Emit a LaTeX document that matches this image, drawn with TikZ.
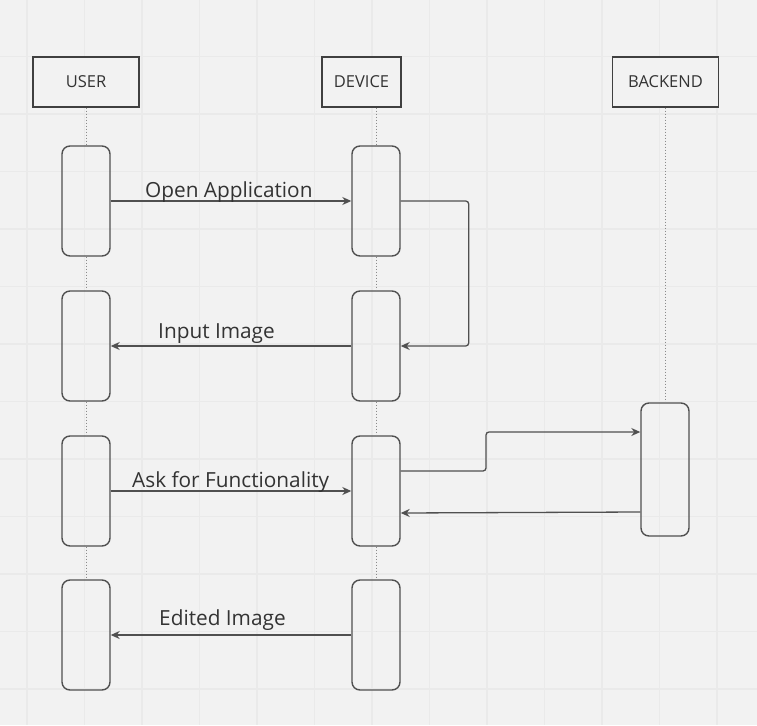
\documentclass[tikz,border=0pt]{standalone}
\usepackage{fontspec}
\setmainfont{Open Sans}
\usetikzlibrary{arrows.meta}
\definecolor{bgc}{HTML}{F2F2F2}
\definecolor{gridc}{HTML}{EAEAEA}
\definecolor{linec}{HTML}{505050}
\definecolor{headc}{HTML}{404040}
\definecolor{txtc}{HTML}{333333}
\definecolor{lifec}{HTML}{8A8A8A}
\tikzset{
  headbox/.style={draw=headc, line width=1.3pt, fill=bgc, inner sep=0pt,
    minimum width=106pt, minimum height=50pt, text=txtc, font=\fontsize{16.5}{19}\selectfont},
  actbox/.style={draw=linec, line width=1.4pt, rounded corners=8pt, inner sep=0pt,
    minimum width=48pt, minimum height=110pt},
  msg/.style={draw=linec, line width=1.3pt, -{Stealth[length=9pt,width=8pt]}},
  lifeline/.style={draw=lifec, line width=1pt, dotted},
  lbl/.style={anchor=base west, inner sep=0pt, text=txtc, font=\fontsize{20.8}{24}\selectfont},
}
\begin{document}
\begin{tikzpicture}[x=1pt,y=-1pt]
\useasboundingbox (0,0) rectangle (757,725);
\fill[bgc] (0,0) rectangle (757,725);
\foreach \k in {0,...,12} {
  \draw[gridc, line width=1.3pt] ({27+57.5*\k},0) -- ({27+57.5*\k},725);
}
\foreach \k in {1,...,12} {
  \draw[gridc, line width=1.3pt] (0,{-1+57.5*\k}) -- (757,{-1+57.5*\k});
}
% heads
\node[headbox] (user) at (86,82) {USER};
\node[headbox, minimum width=79pt] (dev) at (361.5,82) {DEVICE};
\node[headbox] (back) at (665.5,82) {BACKEND};
% activation boxes
\node[actbox] (u1) at (86,201) {};
\node[actbox] (u2) at (86,346) {};
\node[actbox] (u3) at (86,491) {};
\node[actbox] (u4) at (86,635) {};
\node[actbox] (d1) at (376,201) {};
\node[actbox] (d2) at (376,346) {};
\node[actbox] (d3) at (376,491) {};
\node[actbox] (d4) at (376,635) {};
\node[actbox, minimum height=133pt] (b1) at (665,469.5) {};
% lifelines
\draw[lifeline] (user.south) -- (u1.north);
\draw[lifeline] (u1.south) -- (u2.north);
\draw[lifeline] (u2.south) -- (u3.north);
\draw[lifeline] (u3.south) -- (u4.north);
\draw[lifeline] (dev.south -| d1.north) -- (d1.north);
\draw[lifeline] (d1.south) -- (d2.north);
\draw[lifeline] (d2.south) -- (d3.north);
\draw[lifeline] (d3.south) -- (d4.north);
\draw[lifeline] (back.south -| b1.north) -- (b1.north);
% messages
\draw[msg] (u1.east) -- (d1.west);
\draw[msg, rounded corners=3pt] (d1.east) -- ++(68,0) |- (d2.east);
\draw[msg] (d2.west) -- (u2.west -| u2.east);
\draw[msg] (u3.east) -- (d3.west);
\draw[msg, rounded corners=3pt] ([yshift=20pt]d3.east) -- (486,471) -- (486,432) -- ([yshift=37.5pt]b1.west);
\draw[msg] ([yshift=-42.5pt]b1.west) -- ([yshift=-22pt]d3.east);
\draw[msg] (d4.west) -- (u4.east);
% labels
\node[lbl] (l1) at (145,197) {Open Application};
\node[lbl] (l2) at (158,338) {Input Image};
\node[lbl] (l3) at (132,487) {Ask for Functionality};
\node[lbl] (l4) at (159,625) {Edited Image};
\end{tikzpicture}
\end{document}
